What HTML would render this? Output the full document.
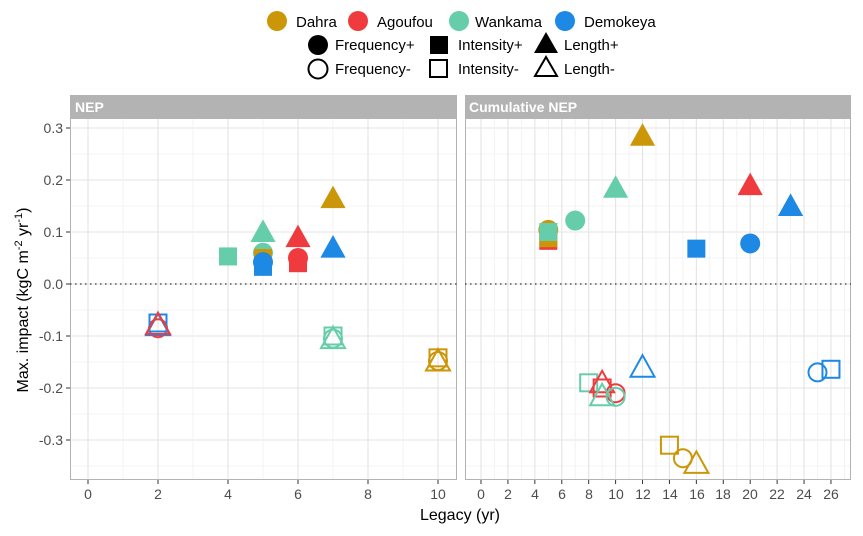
<!DOCTYPE html>
<html><head><meta charset="utf-8"><style>
body{margin:0;background:#fff}
svg{display:block;font-family:"Liberation Sans",Arial,sans-serif}
</style></head><body>
<svg id="s" width="863" height="536" viewBox="0 0 863 536" xmlns="http://www.w3.org/2000/svg">
<rect width="863" height="536" fill="#fff"/>
<g id="grid"></g>
<rect x="70.5" y="118.5" width="386" height="361" fill="none" stroke="#b3b3b3" stroke-width="1"/>
<rect x="465.5" y="118.5" width="385" height="361" fill="none" stroke="#b3b3b3" stroke-width="1"/>
<rect x="70" y="95" width="387" height="23" fill="#b3b3b3"/>
<rect x="465" y="95" width="386" height="23" fill="#b3b3b3"/>
<text x="75" y="112" font-size="14" font-weight="bold" fill="#fff">NEP</text>
<text x="469" y="112" font-size="14" font-weight="bold" fill="#fff">Cumulative NEP</text>
<line x1="70" y1="284" x2="457" y2="284" stroke="#333" stroke-width="1.3" stroke-dasharray="1.5,3.5"/>
<line x1="465" y1="284" x2="851" y2="284" stroke="#333" stroke-width="1.3" stroke-dasharray="1.5,3.5"/>
<g id="pts"></g>
<g font-size="14" fill="#4d4d4d" text-anchor="end">
<text x="63" y="133">0.3</text><text x="63" y="185">0.2</text><text x="63" y="237">0.1</text>
<text x="63" y="289">0.0</text><text x="63" y="341">-0.1</text><text x="63" y="393">-0.2</text><text x="63" y="445">-0.3</text>
</g>
<g font-size="14" fill="#4d4d4d" text-anchor="middle">
<text x="88" y="499">0</text><text x="158" y="499">2</text><text x="228" y="499">4</text><text x="298" y="499">6</text><text x="368" y="499">8</text><text x="438" y="499">10</text>
<text x="481" y="499">0</text><text x="508" y="499">2</text><text x="535" y="499">4</text><text x="562" y="499">6</text><text x="589" y="499">8</text><text x="616" y="499">10</text><text x="643" y="499">12</text><text x="670" y="499">14</text><text x="697" y="499">16</text><text x="723" y="499">18</text><text x="750" y="499">20</text><text x="777" y="499">22</text><text x="804" y="499">24</text><text x="831" y="499">26</text>
</g>
<text x="460" y="520" font-size="16" text-anchor="middle" fill="#000">Legacy (yr)</text>
<text transform="translate(28,300) rotate(-90)" font-size="16" text-anchor="middle" fill="#000">Max. impact (kgC m<tspan font-size="11" dy="-6">-2</tspan><tspan dy="6"> yr</tspan><tspan font-size="11" dy="-6">-1</tspan><tspan dy="6">)</tspan></text>
<g font-size="15" fill="#000">
<circle cx="277" cy="21" r="10" fill="#CC9609"/><text x="296" y="27">Dahra</text>
<circle cx="358" cy="21" r="10" fill="#EF3B3E"/><text x="377" y="27">Agoufou</text>
<circle cx="459" cy="21" r="10" fill="#66CDAA"/><text x="475" y="27">Wankama</text>
<circle cx="565" cy="21" r="10" fill="#1E88E5"/><text x="584" y="27">Demokeya</text>
<circle cx="318" cy="45" r="10" fill="#000"/><text x="335" y="50">Frequency+</text>
<rect x="430" y="36" width="18" height="18" fill="#000"/><text x="458" y="50">Intensity+</text>
<polygon points="546,32 558,53 534,53" fill="#000"/><text x="564" y="50">Length+</text>
<circle cx="318" cy="69" r="9.5" fill="none" stroke="#000" stroke-width="2"/><text x="335" y="74">Frequency-</text>
<rect x="430" y="60" width="17" height="17" fill="none" stroke="#000" stroke-width="2"/><text x="458" y="74">Intensity-</text>
<polygon points="546,57 557,76 535,76" fill="none" stroke="#000" stroke-width="2"/><text x="564" y="74">Length-</text>
</g>
</svg>
<script>
const NS="http://www.w3.org/2000/svg";
const g=document.getElementById('grid'),p=document.getElementById('pts');
function el(par,t,a){const e=document.createElementNS(NS,t);for(const k in a)e.setAttribute(k,a[k]);par.appendChild(e);return e;}
function Y(v){return 284-v*520;}
for(let v=-0.35;v<=0.31;v+=0.05){const y=Y(v);const major=Math.abs(Math.round(v*20))%2==0;
 el(g,'line',{x1:70,x2:457,y1:y,y2:y,stroke:major?'#e3e3e3':'#f0f0f0','stroke-width':major?1.1:0.8});
 el(g,'line',{x1:465,x2:851,y1:y,y2:y,stroke:major?'#e3e3e3':'#f0f0f0','stroke-width':major?1.1:0.8});}
for(let i=0;i<=10;i++){const x=88+i*35;el(g,'line',{x1:x,x2:x,y1:118,y2:480,stroke:i%2?'#f0f0f0':'#e3e3e3','stroke-width':i%2?0.8:1.1});}
for(let i=0;i<=27;i++){const x=481+i*13.46;el(g,'line',{x1:x,x2:x,y1:118,y2:480,stroke:i%2?'#f0f0f0':'#e3e3e3','stroke-width':i%2?0.8:1.1});}
for(let i=0;i<=10;i+=2){const x=88+i*35;el(g,'line',{x1:x,x2:x,y1:480,y2:484,stroke:'#333'});}
for(let i=0;i<=26;i+=2){const x=481+i*13.46;el(g,'line',{x1:x,x2:x,y1:480,y2:484,stroke:'#333'});}
for(let v=-3;v<=3;v++){el(g,'line',{x1:66,x2:70,y1:Y(v/10),y2:Y(v/10),stroke:'#333'});}
const C={D:'#CC9609',A:'#EF3B3E',W:'#66CDAA',K:'#1E88E5'};
function pt(x,y,shape,col,open){
 const a=open?{fill:'none',stroke:col,'stroke-width':2}:{fill:col};
 if(shape=='c')el(p,'circle',Object.assign({cx:x,cy:y,r:open?9:10},a));
 else if(shape=='s'){const h=open?8.5:9;el(p,'rect',Object.assign({x:x-h,y:y-h,width:2*h,height:2*h},a));}
 else {const s=open?1:1.05;el(p,'polygon',Object.assign({points:`${x},${y-12*s} ${x+12*s},${y+9.5*s} ${x-12*s},${y+9.5*s}`},a));}
}
const L=x=>88+x*35,R=x=>481+x*13.46;
pt(L(7),Y(0.165),'t',C.D);pt(L(5),Y(0.1),'t',C.W);pt(L(6),Y(0.09),'t',C.A);pt(L(7),Y(0.07),'t',C.K);
pt(L(4),Y(0.053),'s',C.W);pt(L(5),Y(0.06),'c',C.W);pt(L(5),Y(0.05),'s',C.D);pt(L(5),Y(0.042),'c',C.K);pt(L(5),Y(0.033),'s',C.K);
pt(L(6),Y(0.05),'c',C.A);pt(L(6),Y(0.04),'s',C.A);
pt(L(2),Y(-0.085),'c',C.A,1);pt(L(2),Y(-0.075),'s',C.K,1);pt(L(2),Y(-0.08),'t',C.K,1);pt(L(2),Y(-0.078),'t',C.A,1);
pt(L(7),Y(-0.1),'s',C.W,1);pt(L(7),Y(-0.105),'c',C.W,1);pt(L(7),Y(-0.105),'t',C.W,1);
pt(L(10),Y(-0.142),'s',C.D,1);pt(L(10),Y(-0.148),'c',C.D,1);pt(L(10),Y(-0.148),'t',C.D,1);
pt(R(12),Y(0.285),'t',C.D);pt(R(10),Y(0.185),'t',C.W);pt(R(20),Y(0.19),'t',C.A);pt(R(23),Y(0.15),'t',C.K);
pt(R(7),Y(0.122),'c',C.W);pt(R(5),Y(0.104),'c',C.D);pt(R(5),Y(0.083),'s',C.A);pt(R(5),Y(0.088),'s',C.D);pt(R(5),Y(0.1),'s',C.W);
pt(R(16),Y(0.068),'s',C.K);pt(R(20),Y(0.078),'c',C.K);
pt(R(12),Y(-0.16),'t',C.K,1);pt(R(8),Y(-0.19),'s',C.W,1);pt(R(9),Y(-0.2),'s',C.A,1);pt(R(9),Y(-0.19),'t',C.A,1);
pt(R(10),Y(-0.21),'c',C.A,1);pt(R(10),Y(-0.217),'c',C.W,1);pt(R(9),Y(-0.215),'t',C.W,1);
pt(R(25),Y(-0.17),'c',C.K,1);pt(R(26),Y(-0.164),'s',C.K,1);
pt(R(14),Y(-0.31),'s',C.D,1);pt(R(15),Y(-0.335),'c',C.D,1);pt(R(16),Y(-0.345),'t',C.D,1);
</script>
</body></html>
